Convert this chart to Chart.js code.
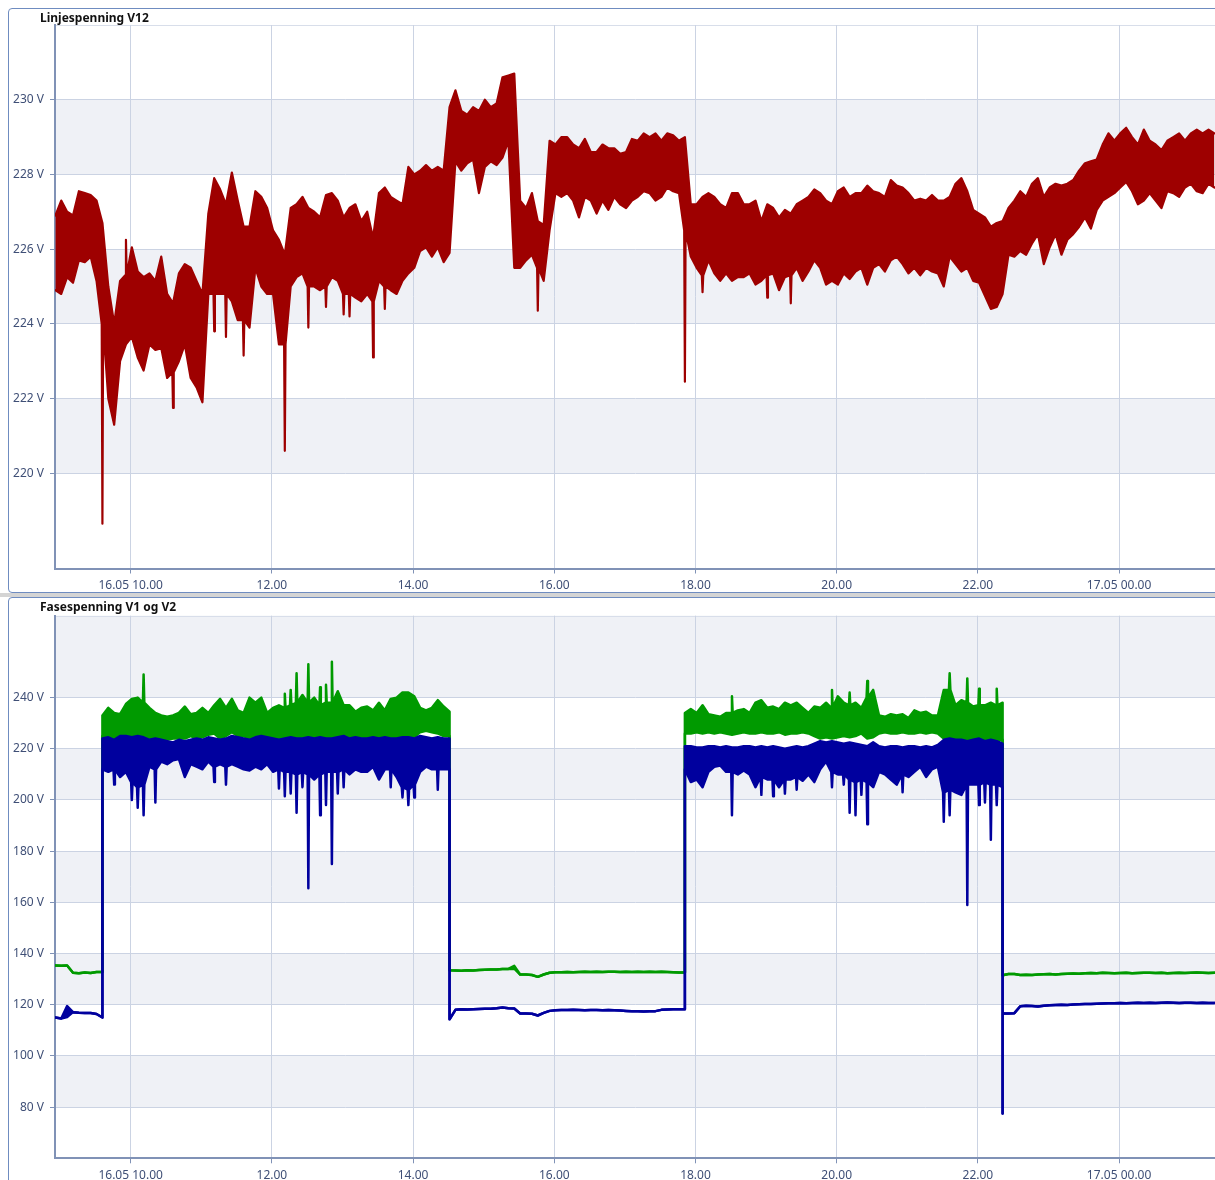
<!DOCTYPE html>
<html lang="no">
<head>
<meta charset="utf-8">
<title>Spenning</title>
<script src="https://cdn.jsdelivr.net/npm/chart.js@4.4.1/dist/chart.umd.min.js"></script>
<style>
  html, body { margin: 0; padding: 0; }
  body { width: 1215px; height: 1180px; overflow: hidden; position: relative; background: #fff;
         font-family: "Noto Sans", "Open Sans", sans-serif; }
  .panel { position: absolute; left: 8px; width: 1260px; box-sizing: border-box;
           border: 1px solid #6f8cc0; border-radius: 4px; background: #fff; }
  #p1 { top: 8px; height: 585px; }
  #p2 { top: 597px; height: 620px; }
  .splitter { position: absolute; left: 0; top: 593px; width: 1215px; height: 4px; background: #d4d4d4; }
  .title { position: absolute; left: 31px; top: 2px; font-weight: 700; font-size: 12px; line-height: 14px;
           color: #111; white-space: nowrap; z-index: 2; }
  canvas { position: absolute; left: 0; top: 0; }
</style>
</head>
<body>
<div class="splitter"></div>
<div class="panel" id="p1">
  <div class="title">Linjespenning V12</div>
  <canvas id="chartV12" width="1206" height="583"></canvas>
</div>
<div class="panel" id="p2">
  <div class="title">Fasespenning V1 og V2</div>
  <canvas id="chartFase" width="1206" height="582"></canvas>
</div>
<script>
// Time axis: hours counted from 16.05 00.00
const axisStartHour = 8 + 55.7 / 60;
const axisEndHour = 25 + 21.5 / 60;
const sampleStartHour = 8 + 56 / 60;   // first logged interval, 16.05 08.56
const sampleStepHours = 5 / 60;        // 5-minute logging intervals
const peakHalfWidthHours = 0.6 / 60;   // short single-sample peaks inside an interval

const tickHours = [10, 12, 14, 16, 18, 20, 22, 24];
const tickLabels = ['16.05 10.00', '12.00', '14.00', '16.00', '18.00', '20.00', '22.00', '17.05 00.00'];

const v12Ticks = [220, 222, 224, 226, 228, 230];
const faseTicks = [80, 100, 120, 140, 160, 180, 200, 220, 240];
const v12Bands = [[220, 222], [224, 226], [228, 230]];
const faseBands = [[80, 100], [120, 140], [160, 180], [200, 220], [240, 272]];

// Line voltage V12 per 5-minute interval: [max, min], or {hi, lo, up/down} when a short peak sticks out
const v12Columns = [
  [226.9,224.9],[227.3,224.8],[227.0,225.25],[226.9,225.1],[227.55,225.7],[227.5,225.65],[227.45,225.8],[227.3,225.15],
  {hi:226.7,lo:224.0,down:218.65},[225.0,222.0],[224.0,221.3],[225.15,223.0],{hi:225.3,lo:223.45,up:226.25},[226.05,223.65],[225.4,223.1],[225.25,222.75],
  [225.35,223.45],[225.15,223.3],[225.8,223.35],[224.8,222.55],{hi:224.55,lo:222.7,down:221.75},[225.35,223.0],[225.6,223.45],[225.5,222.55],
  [225.15,222.3],[224.8,221.9],[226.95,224.8],{hi:227.9,lo:224.8,down:223.8},[227.6,224.8],{hi:227.2,lo:224.8,down:223.65},[228.05,224.6],[227.3,224.1],
  {hi:226.6,lo:224.1,down:223.15},[226.6,223.9],[227.55,225.5],[227.4,225.0],[227.1,224.8],[226.5,224.8],[226.25,223.45],{hi:225.85,lo:223.45,down:220.6},
  [227.1,225.0],[227.2,225.25],[227.4,225.35],{hi:227.1,lo:225.0,down:223.9},[227.0,225.0],[226.85,224.9],{hi:227.45,lo:225.0,down:224.45},[227.5,225.25],
  [227.3,225.15],{hi:226.85,lo:224.8,down:224.25},{hi:227.1,lo:224.8,down:224.2},[227.2,224.7],[226.75,224.6],[227.0,224.8],{hi:226.3,lo:224.6,down:223.1},[227.5,225.15],
  {hi:227.65,lo:225.0,down:224.4},[227.4,224.9],[227.3,224.8],[227.2,225.15],[228.2,225.35],[228.0,225.5],[228.1,225.95],[228.25,226.05],
  [228.1,225.8],[228.2,226.05],[228.1,225.65],[229.8,225.9],[230.25,228.35],[229.7,228.1],[229.6,228.3],[229.8,228.4],
  [229.7,227.5],[230.0,228.2],[229.8,228.35],[229.9,228.25],[230.6,228.45],[230.65,228.9],[230.7,225.5],[227.3,225.5],
  [227.1,225.7],[227.5,225.85],{hi:226.75,lo:225.5,down:224.35},[226.65,225.15],[228.9,226.5],[228.8,227.5],[229.0,227.4],[229.0,227.5],
  [228.8,227.3],[228.7,226.85],[228.95,227.4],[228.6,227.3],[228.6,226.95],[228.8,227.3],[228.7,227.05],[228.7,227.4],
  [228.55,227.2],[228.6,227.1],[228.95,227.3],[228.9,227.4],[229.1,227.55],[229.0,227.5],[229.1,227.3],[228.9,227.4],
  [229.1,227.65],[229.05,227.55],[228.9,227.5],{hi:229.0,lo:226.5,down:222.45},[227.2,225.8],[227.2,225.5],{hi:227.4,lo:225.3,down:224.85},[227.5,225.7],
  [227.4,225.35],[227.2,225.15],[227.1,225.35],[227.5,225.15],[227.5,225.25],[227.2,225.25],[227.2,225.35],[227.3,225.05],
  [226.75,225.15],{hi:227.2,lo:225.3,down:224.7},[227.1,225.35],[226.85,224.9],[227.05,225.25],{hi:226.95,lo:225.3,down:224.55},[227.2,225.5],[227.3,225.15],
  [227.4,225.4],[227.6,225.7],[227.5,225.5],[227.3,225.05],[227.2,225.15],[227.55,225.05],[227.65,225.35],[227.4,225.2],
  [227.5,225.4],[227.5,225.5],[227.7,225.05],[227.55,225.5],[227.5,225.6],[227.4,225.4],[227.85,225.7],[227.7,225.8],
  [227.65,225.6],[227.5,225.35],[227.3,225.5],[227.35,225.3],[227.3,225.5],[227.45,225.4],[227.3,225.35],[227.3,225.0],
  [227.4,225.8],[227.75,225.6],[227.9,225.4],[227.55,225.5],[227.05,225.15],[226.95,225.1],[226.85,224.75],[226.6,224.4],
  [226.7,224.45],[226.75,224.8],[227.1,225.85],[227.3,225.8],[227.55,225.95],[227.4,225.85],[227.75,226.15],[227.9,226.4],
  [227.4,225.6],[227.65,226.05],[227.75,226.4],[227.7,225.85],[227.75,226.25],[227.85,226.4],[228.1,226.6],[228.3,226.85],
  [228.35,226.55],[228.4,227.05],[228.8,227.3],[229.1,227.4],[228.9,227.5],[229.1,227.65],[229.25,227.8],[229.0,227.55],
  [228.8,227.2],[229.2,227.3],[228.9,227.5],[228.8,227.3],[228.65,227.1],[228.9,227.55],[229.0,227.5],[229.1,227.4],
  [228.9,227.65],[229.1,227.75],[229.2,227.55],[229.1,227.5],[229.2,227.75],[229.1,227.65]
];

// Phase voltage, green trace. A number is a steady interval, [max, min] a busy one,
// {hi, lo, up/down} a busy one with a short peak, {from, hi, lo} a switch-on
// and {hi, lo, to} a switch-off inside the interval.
const v1Columns = [
  135.3, 135.2, 135.3, 132.5, 132.3, 132.6, 132.4, 132.8,
  { from: [132.8], hi: 233, lo: 225 },
  [236,224.5],[234,224],[233.5,224.5],[237.5,224],[239.5,225],[240,224.5],{hi:238,lo:224,up:249},[236,223.5],
  [234,223.5],[233,224],[232.5,223.5],[233,224],[234,224],[236.5,224],[233.5,225],[234,224],
  [236,224.5],[234,225.5],[237,226],[239.5,224],[236,225],[239.5,226.5],[235,225],[234,225],
  [240,224],[238,223.5],[240,224],[234,224.5],[236,223],[237,224],{hi:236,lo:224,up:241.5},{hi:237,lo:223,up:243},
  {hi:238,lo:223.5,up:249.5},[241,223],{hi:238,lo:223,up:253},[240,223],{hi:237,lo:223.5,up:244},{hi:238,lo:224,up:245},{hi:238,lo:223,up:254},[242.5,224],
  [237,224],[237,224.5],[234.5,225],[236,224],[236.5,224],[235,224.5],[238,224.5],[235,225],
  [239.5,224],[240,224],[242,223.5],[242,224],[240.5,224.5],[236,226.5],[235,227],[236,226.5],
  [239,226],[236.5,225],
  { hi: 234.5, lo: 225, to: [133.5] },
  133.4, 133.3, 133.5, 133.4, 133.6, 133.7, 133.8, 133.8, 134.0, 134.0, [135.2,134.1], 131.8,
  131.8, 131.6, 130.9, 131.8, 132.5, 132.7, 132.7, 132.8, 132.7, 132.8, 132.9, 132.8,
  132.9, 132.8, 132.9, 132.9, 132.8, 132.9, 132.8, 132.9, 132.8, 132.9, 132.8, 132.9,
  132.8, 132.7, 132.6,
  { from: [132.6], hi: 234, lo: 226 },
  [235.5,226],[234,226.5],[237,226],[233.5,226.5],[233,226],[232.5,226.5],[234,226],{hi:234,lo:225.5,up:240.5},
  [235,226],[235.5,226.5],[234,226],[238,226],[239,226.5],[236,226],[236.5,226],[235.5,226.5],
  [238,225.5],[237,226],[238,226],[236,226.5],[234,226],[236.5,225],[236,224],[238,224.5],
  {hi:236,lo:224,up:243},[240.5,224.5],[238,225],{hi:237,lo:224.5,up:242},[238,225],[236,226],{hi:240,lo:224,up:246.5},[243,224.5],
  [233,226],[232.5,226.5],[233.5,226],[233,226],[233.5,226.5],[232,226],[235,226],[234,226.5],
  [234.5,226],[233,226.5],[233,226],[243,224],{hi:243,lo:223.5,up:249.5},[237,224],[239,224],{hi:238,lo:223.5,up:247.5},
  [236.5,223.5],{hi:237,lo:224,up:243.5},[237,223.5],[238,223.5],{hi:237,lo:223,up:243.5},
  { hi: 238, lo: 223.5, to: [131.5] },
  132.0, 132.0, 131.6, 131.7, 131.6, 131.8, 131.9, 132.0, 131.8, 132.0, 132.1, 132.2,
  132.1, 132.3, 132.4, 132.3, 132.5, 132.4, 132.3, 132.4, 132.5, 132.3, 132.4, 132.5,
  132.5, 132.4, 132.5, 132.3, 132.4, 132.5, 132.4, 132.5, 132.6, 132.5, 132.4, 132.5
];

// Phase voltage, blue trace (same layout as above)
const v2Columns = [
  115.0, 114.6, [119.5,115.2], 117.1, 116.9, 116.8, 116.8, 116.4,
  { from: [115.0], hi: 224, lo: 212 },
  [224.5,211],{hi:223.5,lo:212,down:206},[225,209],[225,211],{hi:224.5,lo:207,down:200},{hi:225,lo:205,down:197},{hi:224.5,lo:206,down:194},[223.5,213],
  {hi:224,lo:212,down:199},[223.5,215],[223,214],[222.5,215.5],[223.5,216],[223,209],[223.5,214],[224,213],
  [223.5,212],[224.5,215],{hi:224,lo:213,down:207},[223.5,214],{hi:224,lo:213,down:206},[225,214],[224.5,213],[224,212],
  [223.5,211.5],[224.5,213],[225,212],[224.5,214],[224,211],{hi:223.5,lo:212,down:204.5},{hi:224,lo:211,down:201.5},{hi:224.5,lo:211,down:202.5},
  {hi:224,lo:210,down:195},{hi:224,lo:211,down:205},{hi:224.5,lo:210,down:165.5},[224,208],{hi:224.5,lo:210,down:194},{hi:224,lo:211,down:198},{hi:224,lo:211,down:175},{hi:224.5,lo:211,down:202.5},
  {hi:225,lo:212,down:205},[224,210],[224.5,212],[224,211],[224,211],[224.5,213],[224,208],[224.5,212],
  {hi:224,lo:212,down:205},[224,209],{hi:224.5,lo:205,down:201},{hi:224.5,lo:204,down:198},{hi:224,lo:206,down:201},[225,211],[224.5,213],[224,212],
  {hi:224.5,lo:212,down:204},[224,212],
  { hi: 224, lo: 212, to: [114.3] },
  118.0, 118.2, 118.1, 118.2, 118.3, 118.4, 118.4, 118.6, 118.9, 118.6, 118.5, 116.6,
  116.6, 116.5, 115.8, 116.8, 117.6, 117.8, 117.9, 117.9, 118.0, 117.9, 117.8, 117.9,
  117.9, 117.8, 117.9, 117.8, 117.7, 117.6, 117.5, 117.5, 117.4, 117.5, 117.5, 118.0,
  118.1, 118.2, 118.2,
  { from: [118.2], hi: 221, lo: 212 },
  [221,207],[220.5,208],[220.5,205],[221,211],[221,213],[220.5,213.5],[221,211],{hi:220.5,lo:211,down:194},
  [220.5,210],[221,211.5],[221,210],[220.5,205],{hi:221,lo:209,down:202},[220.5,208],{hi:221,lo:208,down:201.5},[220.5,205],
  {hi:220,lo:208,down:202.5},[220.5,208],{hi:221,lo:209,down:204},[220.5,207.5],[221,210],[222,207],[223,212],[222.5,215],
  {hi:223,lo:211,down:205},[222.5,210],{hi:222,lo:210,down:206},{hi:222.5,lo:208,down:195},{hi:222,lo:207,down:194},{hi:221.5,lo:208,down:202},{hi:221,lo:207,down:190.5},[222.5,205],
  [221,211],[220.5,210],[221,208],[221,206],{hi:220.5,lo:210,down:203},[221,209],[221,211],[220.5,213],
  [221,209],[220.5,212],[221.5,213],{hi:223.5,lo:203,down:191.5},{hi:224,lo:204,down:194},[223.5,203],[223.5,202],{hi:223,lo:206,down:159},
  [223.5,206],{hi:224,lo:206,down:198},{hi:223,lo:207,down:199},{hi:223.5,lo:206,down:184.5},{hi:223,lo:206,down:198},
  { hi: 222, lo: 205, to: [77.5, 116.6] },
  116.6, 116.7, 119.4, 119.6, 119.5, 119.3, 119.6, 119.8, 119.9, 120.0, 119.9, 120.1,
  120.2, 120.3, 120.3, 120.4, 120.5, 120.6, 120.6, 120.7, 120.6, 120.7, 120.8, 120.7,
  120.8, 120.7, 120.8, 120.9, 120.8, 120.7, 120.8, 120.8, 120.7, 120.8, 120.7, 120.7
];

// Upper and lower edge of each trace, one point per interval plus extra points for peaks and switching
function toEnvelope(columns) {
  const high = [], low = [];
  const both = (x, y) => { high.push({ x, y }); low.push({ x, y }); };
  const edge = (list, x, base, peak) => {
    if (peak === undefined) { list.push({ x, y: base }); return; }
    list.push({ x: x - peakHalfWidthHours, y: base }, { x, y: peak }, { x: x + peakHalfWidthHours, y: base });
  };
  columns.forEach((c, i) => {
    const x = sampleStartHour + i * sampleStepHours;
    if (typeof c === 'number') { both(x, c); return; }
    if (Array.isArray(c)) {
      high.push({ x, y: Math.max(c[0], c[1]) });
      low.push({ x, y: Math.min(c[0], c[1]) });
      return;
    }
    (c.from || []).forEach(v => both(x, v));
    edge(high, x, c.hi, c.up);
    edge(low, x, c.lo, c.down);
    (c.to || []).forEach(v => both(x, v));
  });
  return { high, low };
}

function bandDatasets(label, columns, color, width) {
  const env = toEnvelope(columns);
  return [
    { label: label, data: env.high, borderColor: color, backgroundColor: color, borderWidth: width, fill: '+1' },
    { label: label + ' min', data: env.low, borderColor: color, backgroundColor: color, borderWidth: width, fill: false }
  ];
}

const AXIS_COLOR = '#8092b6';
const GRID_COLOR = '#cbd3e3';
const LABEL_COLOR = '#3f4f76';
const BAND_COLOR = '#eff1f6';
const FONT = { family: '"Noto Sans", "Open Sans", sans-serif', size: 12 };

function bandPlugin(bands) {
  return {
    id: 'bands',
    beforeDraw(chart) {
      const { ctx, chartArea: { left, right, top, bottom }, scales: { y } } = chart;
      ctx.save();
      ctx.fillStyle = BAND_COLOR;
      bands.forEach(([lo, hi]) => {
        const y1 = Math.max(top, y.getPixelForValue(hi));
        const y2 = Math.min(bottom, y.getPixelForValue(lo));
        ctx.fillRect(left, y1, right - left, y2 - y1);
      });
      ctx.strokeStyle = '#d8deea';
      ctx.lineWidth = 1;
      ctx.beginPath();
      ctx.moveTo(left, Math.round(top) + 0.5);
      ctx.lineTo(right, Math.round(top) + 0.5);
      ctx.stroke();
      ctx.restore();
    }
  };
}

function makeChart(canvas, opts) {
  return new Chart(canvas, {
    type: 'line',
    data: { datasets: opts.datasets },
    options: {
      responsive: false,
      animation: false,
      events: [],
      parsing: false,
      layout: { padding: { top: opts.padTop, left: 0, right: 0, bottom: 0 } },
      plugins: { legend: { display: false }, tooltip: { enabled: false }, title: { display: false } },
      elements: {
        point: { radius: 0 },
        line: { tension: 0, borderJoinStyle: 'round', borderCapStyle: 'round' }
      },
      scales: {
        x: {
          type: 'linear',
          min: axisStartHour,
          max: axisEndHour,
          afterBuildTicks: s => { s.ticks = tickHours.map(v => ({ value: v })); },
          afterFit: s => { s.height = opts.xAxisHeight; },
          ticks: {
            callback: v => tickLabels[tickHours.indexOf(v)],
            color: LABEL_COLOR, font: FONT, padding: 5, maxRotation: 0, autoSkip: false
          },
          grid: { color: GRID_COLOR, lineWidth: 1, tickLength: 5, tickColor: AXIS_COLOR, tickWidth: 1 },
          border: { display: true, color: AXIS_COLOR, width: 2 }
        },
        y: {
          type: 'linear',
          min: opts.yMin,
          max: opts.yMax,
          afterBuildTicks: s => { s.ticks = opts.yTicks.map(v => ({ value: v })); },
          afterFit: s => { s.width = 46; },
          ticks: { callback: v => v + ' V', color: LABEL_COLOR, font: FONT, padding: 6 },
          grid: { color: GRID_COLOR, lineWidth: 1, tickLength: 5, tickColor: AXIS_COLOR, tickWidth: 1 },
          border: { display: true, color: AXIS_COLOR, width: 2 }
        }
      }
    },
    plugins: [bandPlugin(opts.bands)]
  });
}

makeChart(document.getElementById('chartV12'), {
  padTop: 16,
  xAxisHeight: 23.5,
  yMin: 217.45,
  yMax: 232,
  yTicks: v12Ticks,
  bands: v12Bands,
  datasets: bandDatasets('V12', v12Columns, '#9e0000', 2.2)
});

// Blue first so that it is drawn on top of the green trace
makeChart(document.getElementById('chartFase'), {
  padTop: 17.7,
  xAxisHeight: 21.7,
  yMin: 60,
  yMax: 272,
  yTicks: faseTicks,
  bands: faseBands,
  datasets: bandDatasets('V2', v2Columns, '#00009e', 2.5).concat(bandDatasets('V1', v1Columns, '#009a00', 2.5))
});
</script>
</body>
</html>
